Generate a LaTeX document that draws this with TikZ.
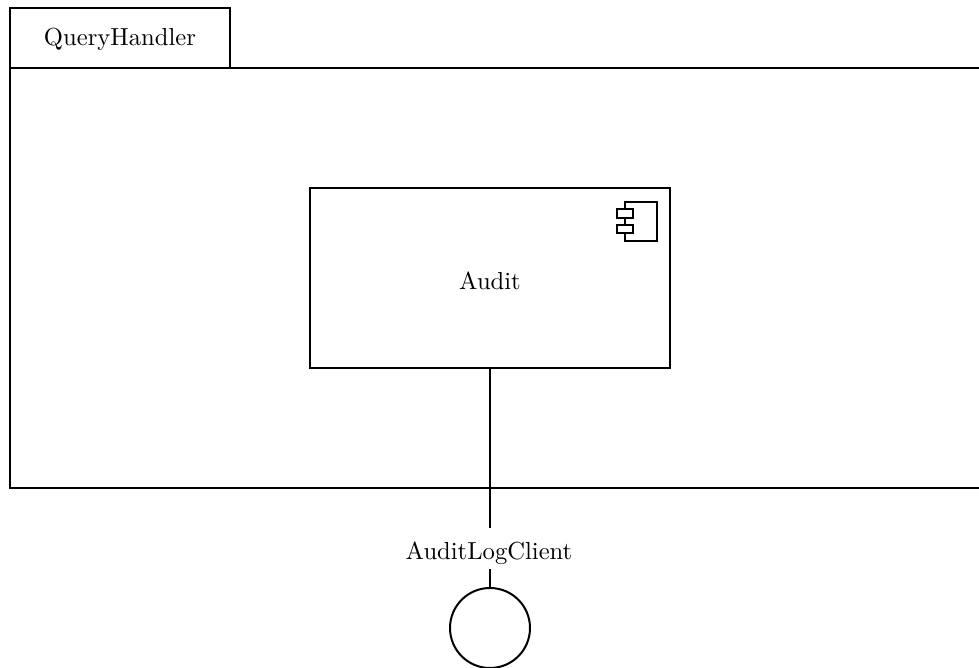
\documentclass[tikz,border=0pt]{standalone}
\usetikzlibrary{positioning}
\tikzset{
    boxline/.style={draw, line width=0.8pt, inner sep=0pt, anchor=center},
    labelfont/.style={font=\fontsize{9.85pt}{12pt}\selectfont},
    package/.style={boxline, minimum width=480pt, minimum height=168pt},
    tab/.style={boxline, labelfont, minimum width=88pt, minimum height=24pt, text height=7.6pt, text depth=1.94pt},
    component/.style={boxline, labelfont, minimum width=144pt, minimum height=72pt, text height=9.3pt, text depth=0pt},
    iface/.style={boxline, circle, minimum size=32pt},
    ifacelabel/.style={labelfont, inner xsep=0pt, inner ysep=2.4pt, text height=10.1pt, text depth=1.34pt},
    iconline/.style={line width=0.8pt},
}

\begin{document}
\begin{tikzpicture}[x=0.4pt, y=0.4pt]

    \useasboundingbox (0,0) rectangle (979,667);
    \clip (0,0) rectangle (979,667);

    \node[tab] (queryhandlertab) at (120,629) {QueryHandler\hspace{1pt}};
    \node[package] (queryhandler) at (610,389) {};

    \node[component] (audit) at (490,389) {Audit};

    % component icon
    \begin{scope}[shift={(audit.north east)}, iconline]
        \draw (-46,-15) rectangle (-14,-54);
        \draw[fill=white] (-54,-22) rectangle (-38,-31);
        \draw[fill=white] (-54,-38) rectangle (-38,-46);
    \end{scope}

    \node[ifacelabel, anchor=north] (auditlogclient) at (489,139.5) {AuditLogClient};
    \node[iface] (auditlogclientport) at (490,39) {};

    \draw[line width=0.8pt] (audit.south) -- (audit.south |- auditlogclient.north);
    \draw[line width=0.8pt] (audit.south |- auditlogclient.south) -- (auditlogclientport.north);

\end{tikzpicture}
\end{document}
